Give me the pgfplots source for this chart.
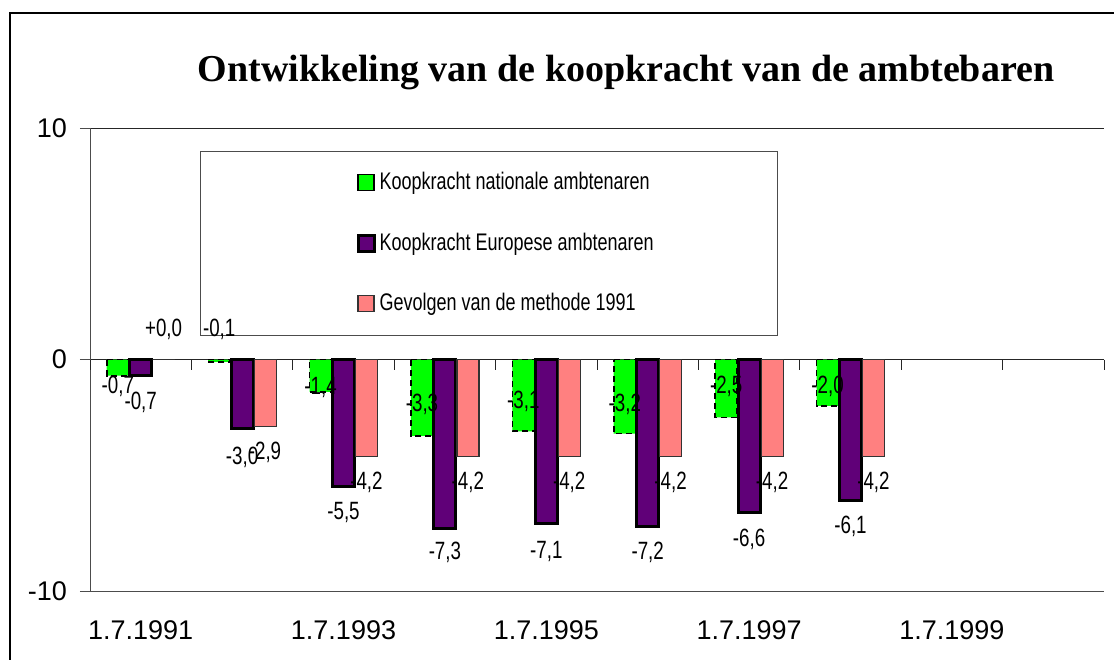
\documentclass[border=0pt]{standalone}
\usepackage{pgfplots}
\pgfplotsset{compat=1.18}
\usepackage{fontspec}
\setmainfont{Liberation Sans}
\newfontfamily\narrow[FakeStretch=0.75]{Liberation Sans}
\newfontfamily\titlefont{Liberation Serif}
\definecolor{natgreen}{RGB}{0,255,0}
\definecolor{eupurple}{RGB}{96,0,120}
\definecolor{methpink}{RGB}{255,128,128}

\pgfplotstableread{
x y
0 -0.7
1 -0.1
2 -1.4
3 -3.3
4 -3.1
5 -3.2
6 -2.5
7 -2.0
}\natdata
\pgfplotstableread{
x y
0 -0.7
1 -3.0
2 -5.5
3 -7.3
4 -7.1
5 -7.2
6 -6.6
7 -6.1
}\eudata
\pgfplotstableread{
x y
0 0.0
1 -2.9
2 -4.2
3 -4.2
4 -4.2
5 -4.2
6 -4.2
7 -4.2
}\methdata

\begin{document}
\begin{tikzpicture}
\path[use as bounding box] (0,0) rectangle (557pt,-329.5pt);
\draw[black, line width=0.6pt] (5pt,-6.5pt) rectangle (580pt,-400pt);
\node[font=\titlefont\bfseries\fontsize{19}{23}\selectfont] at (313pt,-36.5pt) {Ontwikkeling van de koopkracht van de ambtebaren};
\begin{axis}[
  at={(45pt,-64pt)}, anchor=north west,
  scale only axis, width=507pt, height=231.5pt,
  xmin=-0.5, xmax=9.5, ymin=-10, ymax=10,
  axis x line*=bottom, axis y line*=left,
  axis line style={black!70, line width=0.5pt},
  xtick={0,2,4,6,8},
  xticklabels={1.7.1991,1.7.1993,1.7.1995,1.7.1997,1.7.1999},
  x tick style={draw=none},
  ytick={-10,0,10}, yticklabels={-10,0,10},
  y tick style={black!70, line width=0.5pt},
  tick align=outside, major tick length=5pt,
  ymajorgrids, grid style={black!85, line width=0.5pt},
  tick label style={font=\fontsize{13.5}{16}\selectfont},
  xticklabel style={yshift=-6.5pt},
  yticklabel style={xshift=-3pt},
  clip=false,
  legend style={at={(0.2625,0.913)}, anchor=north west, draw=none, fill=none,
    inner sep=0pt, row sep=16.25pt,
    font=\narrow\fontsize{12}{14}\selectfont,
    nodes={inner sep=2pt, text height=8.5pt, text depth=1.5pt}},
  legend cell align=left,
  mybar/.style={ybar, bar width=11pt,
    legend image code/.code={\draw[##1, solid] (0pt,-4pt) rectangle (8pt,4pt);}},
  lab/.style={draw=none, mark=none, forget plot, nodes near coords,
    point meta=explicit symbolic, nodes near coords align=center,
    every node near coord/.append style={font=\narrow\fontsize{12.5}{14}\selectfont, inner sep=0pt, anchor=center}},
]
\draw[black!70, line width=0.5pt] (rel axis cs:0.1085,0.9503) rectangle (rel axis cs:0.6775,0.5529);
\draw[black!85, line width=0.5pt] (axis cs:-0.5,0) -- ++(0pt,-5pt);
\draw[black!85, line width=0.5pt] (axis cs:0.5,0) -- ++(0pt,-5pt);
\draw[black!85, line width=0.5pt] (axis cs:1.5,0) -- ++(0pt,-5pt);
\draw[black!85, line width=0.5pt] (axis cs:2.5,0) -- ++(0pt,-5pt);
\draw[black!85, line width=0.5pt] (axis cs:3.5,0) -- ++(0pt,-5pt);
\draw[black!85, line width=0.5pt] (axis cs:4.5,0) -- ++(0pt,-5pt);
\draw[black!85, line width=0.5pt] (axis cs:5.5,0) -- ++(0pt,-5pt);
\draw[black!85, line width=0.5pt] (axis cs:6.5,0) -- ++(0pt,-5pt);
\draw[black!85, line width=0.5pt] (axis cs:7.5,0) -- ++(0pt,-5pt);
\draw[black!85, line width=0.5pt] (axis cs:8.5,0) -- ++(0pt,-5pt);
\draw[black!85, line width=0.5pt] (axis cs:9.5,0) -- ++(0pt,-5pt);

\addplot[mybar, bar shift=-11.5pt, fill=natgreen, draw=black, line width=0.8pt, dash pattern=on 3pt off 2pt] table {\natdata};
\addlegendentry{Koopkracht nationale ambtenaren}
\addplot[mybar, bar shift=0pt, fill=eupurple, draw=black, line width=1.5pt] table {\eudata};
\addlegendentry{Koopkracht Europese ambtenaren}
\addplot[mybar, bar shift=11.5pt, fill=methpink, draw=black!80, line width=0.6pt] table {\methdata};
\addlegendentry{Gevolgen van de methode 1991}

\addplot[lab] table[meta=lab] {
x y lab
-0.226 -1.17 -0,7
0.774 1.30 -0,1
1.774 -1.21 -1,4
2.774 -1.94 -3,3
3.774 -1.81 -3,1
4.774 -1.94 -3,2
5.774 -1.17 -2,5
6.774 -1.17 -2,0
};
\addplot[lab] table[meta=lab] {
x y lab
0 -1.86 -0,7
1 -4.23 -3,0
2 -6.61 -5,5
3 -8.34 -7,3
4 -8.29 -7,1
5 -8.34 -7,2
6 -7.78 -6,6
7 -7.21 -6,1
};
\addplot[lab] table[meta=lab] {
x y lab
0.226 1.30 +0,0
1.226 -4.02 -2,9
2.226 -5.31 -4,2
3.226 -5.31 -4,2
4.226 -5.31 -4,2
5.226 -5.31 -4,2
6.226 -5.31 -4,2
7.226 -5.31 -4,2
};
\end{axis}
\end{tikzpicture}
\end{document}
